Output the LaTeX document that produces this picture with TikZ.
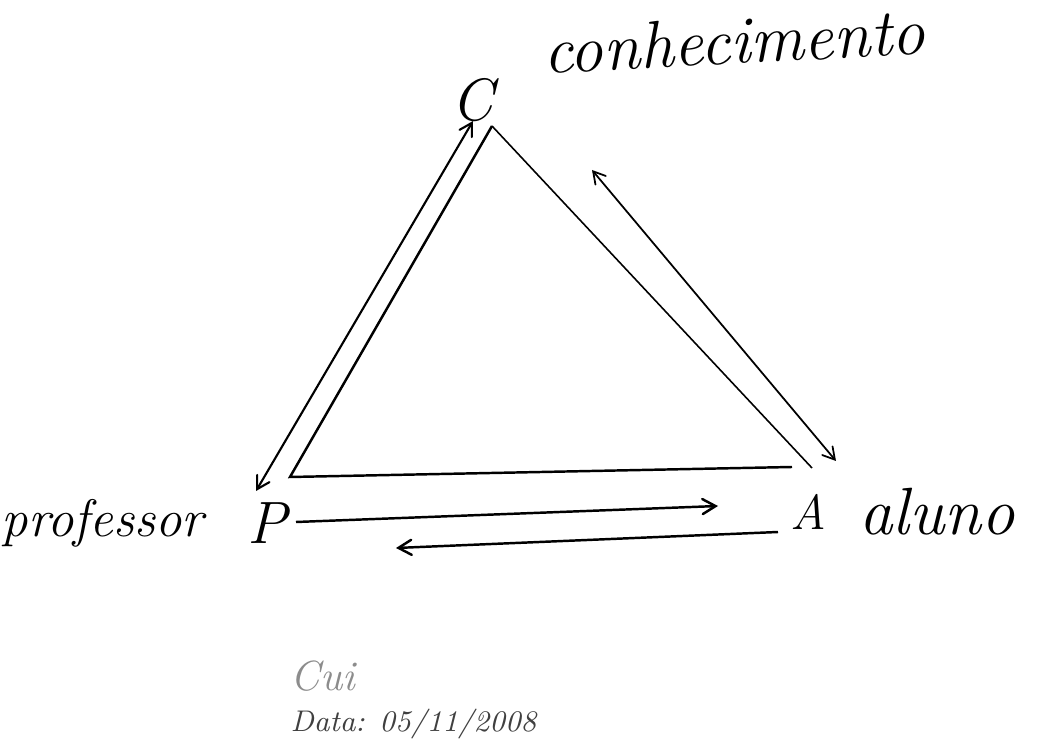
\documentclass[tikz,border=0pt]{standalone}
\usepackage{tikz}
\usetikzlibrary{arrows, positioning, calc}

\begin{document}
\begin{tikzpicture}[
    x=0.01cm, y=-0.01cm,
    node distance=0.3cm,
    vertex/.style={font=\fontsize{17}{20}\selectfont\itshape, inner sep=1pt},
    word/.style={font=\fontsize{19}{23}\selectfont\itshape, inner sep=1pt},
    note/.style={font=\fontsize{8.5}{10}\selectfont\itshape, text=black!75, inner sep=0pt},
    side/.style={line width=0.7pt},
    flow/.style={line width=0.5pt, <->, >=angle 60}
  ]
  \useasboundingbox (0,0) rectangle (1057,752);

  % the three poles
  \node (C)    [vertex] at (472,100)          {C};
  \node (P)    [vertex] at (267,523)          {P};
  \node (A)    [vertex, font=\fontsize{14}{16}\selectfont\itshape] at (808,512) {A};
  \node (know) [word, rotate=3, anchor=base west] at (540,74) {conhecimento};
  \node (prof) [word, font=\fontsize{15}{18}\selectfont\itshape, left=0.35cm of P] {professor};
  \node (alun) [word, right=0.25cm of A]      {aluno};

  % signature and date
  \node (sig)  [note, font=\fontsize{12}{14}\selectfont\itshape, text=black!45, anchor=south west] at (290,692) {Cui};
  \node (date) [note, anchor=north west] at (290,708) {Data: 05/11/2008};

  % corners of the triangle
  \coordinate (top)   at (492,126);
  \coordinate (left)  at (290,477);
  \coordinate (right) at (812,468);
  \coordinate (base)  at (792,467);

  % ends of the arrows
  \coordinate (cp1) at (473,121);
  \coordinate (cp2) at (256,491);
  \coordinate (ca1) at (592,170);
  \coordinate (ca2) at (836,461);
  \coordinate (pa1) at (296,522);
  \coordinate (pa2) at (718,506);
  \coordinate (ap1) at (778,532);
  \coordinate (ap2) at (396,548);

  \draw [side] (top) -- (left) -- (base);
  \draw [side, line width=0.45pt] (top) -- (right);

  \draw [flow, line width=0.6pt] (cp2) -- (cp1);
  \draw [flow] (ca1) -- (ca2);
  \draw [side, ->, >=angle 60] (pa1) -- (pa2);
  \draw [side, ->, >=angle 60] (ap1) -- (ap2);
\end{tikzpicture}
\end{document}
